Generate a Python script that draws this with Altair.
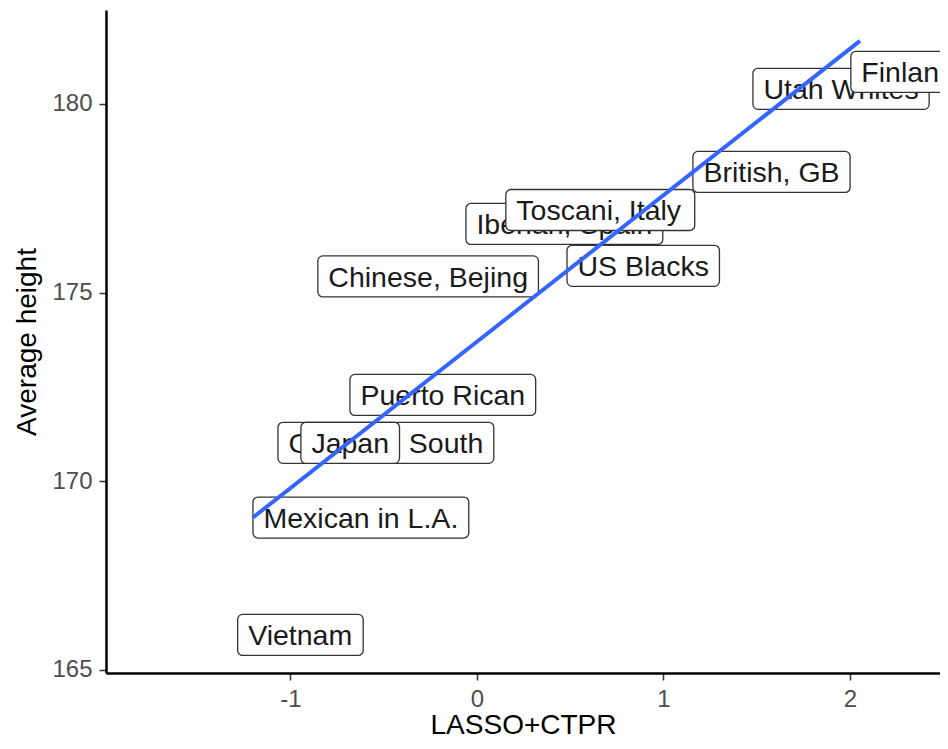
import altair as alt
import pandas as pd

# ---- data ----
labels = ["Vietnam", "Mexican in L.A.", "Chinese, South", "Japan", "Puerto Rican",
          "Chinese, Bejing", "Iberian, Spain", "Toscani, Italy", "US Blacks",
          "British, GB", "Utah Whites", "Finland"]
lasso_ctpr = [-1.283, -1.201, -1.067, -0.944, -0.681, -0.853, -0.059, 0.155, 0.483,
              1.158, 1.480, 2.005]
avg_height = [165.93, 169.04, 171.02, 171.02, 172.29, 175.43, 176.82, 177.19, 175.71,
              178.20, 180.40, 180.85]
fit_x = [-1.201, 2.054]
fit_y = [169.04, 181.67]
x_ticks = [-1, 0, 1, 2]
y_ticks = [165, 170, 175, 180]

# ---- layout / style ----
X_DOMAIN = [-1.989, 2.483]
Y_DOMAIN = [164.92, 182.49]
W, H = 834, 663
FONT = "Liberation Sans"
FONT_SIZE = 28.5
PAD = 10.5
BOX_H = 41

ARIAL = {' ': 278, ',': 278, '.': 278, '+': 584, 'A': 667, 'B': 667, 'C': 722, 'F': 611,
         'G': 778, 'I': 278, 'J': 500, 'L': 556, 'M': 833, 'P': 667, 'R': 722, 'S': 667,
         'T': 611, 'U': 722, 'V': 667, 'W': 944, 'a': 556, 'b': 556, 'c': 500, 'd': 556,
         'e': 556, 'g': 556, 'h': 556, 'i': 222, 'j': 222, 'k': 500, 'l': 222, 'm': 833,
         'n': 556, 'o': 556, 'p': 556, 'r': 333, 's': 500, 't': 278, 'u': 556, 'v': 500,
         'x': 500, 'y': 500}


def text_px(s):
    return sum(ARIAL.get(c, 556) for c in s) / 1000.0 * FONT_SIZE


x_per_px = (X_DOMAIN[1] - X_DOMAIN[0]) / W
y_per_px = (Y_DOMAIN[1] - Y_DOMAIN[0]) / H

rows = []
for i, (lab, xv, yv) in enumerate(zip(labels, lasso_ctpr, avg_height)):
    bw = text_px(lab) + 2 * PAD
    rows.append({"idx": i, "label": lab, "x": xv, "y": yv,
                 "x2": xv + bw * x_per_px,
                 "ytop": yv + BOX_H / 2 * y_per_px,
                 "ybot": yv - BOX_H / 2 * y_per_px})
df = pd.DataFrame(rows)
fit_df = pd.DataFrame({"x": fit_x, "y": fit_y})

xscale = alt.Scale(domain=X_DOMAIN, nice=False, zero=False)
yscale = alt.Scale(domain=Y_DOMAIN, nice=False, zero=False)

hyphen_expr = "datum.value < 0 ? '-' + abs(datum.value) : '' + datum.value"

xaxis = alt.Axis(values=x_ticks, title="LASSO+CTPR", grid=False,
                 labelExpr=hyphen_expr,
                 titleFontSize=28, titleFont=FONT, titleFontWeight="normal",
                 titleColor="black", titleY=52, titleBaseline="middle",
                 labelFontSize=24, labelFont=FONT, labelColor="#4d4d4d",
                 labelPadding=7, tickSize=7, tickColor="#333333", tickWidth=1.5,
                 domainColor="black", domainWidth=2.5)
yaxis = alt.Axis(values=y_ticks, title="Average height", grid=False,
                 labelExpr=hyphen_expr,
                 titleFontSize=28, titleFont=FONT, titleFontWeight="normal",
                 titleColor="black", titleX=-79, titleY=H / 2, titleAngle=270,
                 titleBaseline="middle", titleAlign="center",
                 labelFontSize=24, labelFont=FONT, labelColor="#4d4d4d",
                 labelPadding=7, tickSize=7, tickColor="#333333", tickWidth=1.5,
                 domainColor="black", domainWidth=2.5)

layers = []
base = alt.Chart(df)
# axes carrier (invisible)
layers.append(base.mark_point(opacity=0).encode(
    x=alt.X("x:Q", scale=xscale, axis=xaxis),
    y=alt.Y("y:Q", scale=yscale, axis=yaxis)))

for i in range(len(labels)):
    sub = base.transform_filter(alt.datum.idx == i)
    layers.append(sub.mark_rect(fill="white", stroke="#333333", strokeWidth=1.3,
                                cornerRadius=5, clip=True).encode(
        x=alt.X("x:Q", scale=xscale), x2="x2:Q",
        y=alt.Y("ytop:Q", scale=yscale), y2="ybot:Q"))
    layers.append(sub.mark_text(align="left", baseline="middle", dx=PAD, dy=1.5,
                                fontSize=FONT_SIZE, font=FONT, color="#1a1a1a",
                                clip=True).encode(
        x=alt.X("x:Q", scale=xscale),
        y=alt.Y("y:Q", scale=yscale),
        text="label:N"))

layers.append(alt.Chart(fit_df).mark_line(color="#3366FF", strokeWidth=4, clip=True).encode(
    x=alt.X("x:Q", scale=xscale), y=alt.Y("y:Q", scale=yscale)))

chart = alt.layer(*layers).properties(
    width=W, height=H,
    autosize=alt.AutoSizeParams(type="none"),
    padding={"left": 98, "top": 2, "right": 0, "bottom": 66},
    background="white",
).configure_view(stroke=None)

chart.save("out.html", embed_options={"renderer": "svg", "actions": False})
